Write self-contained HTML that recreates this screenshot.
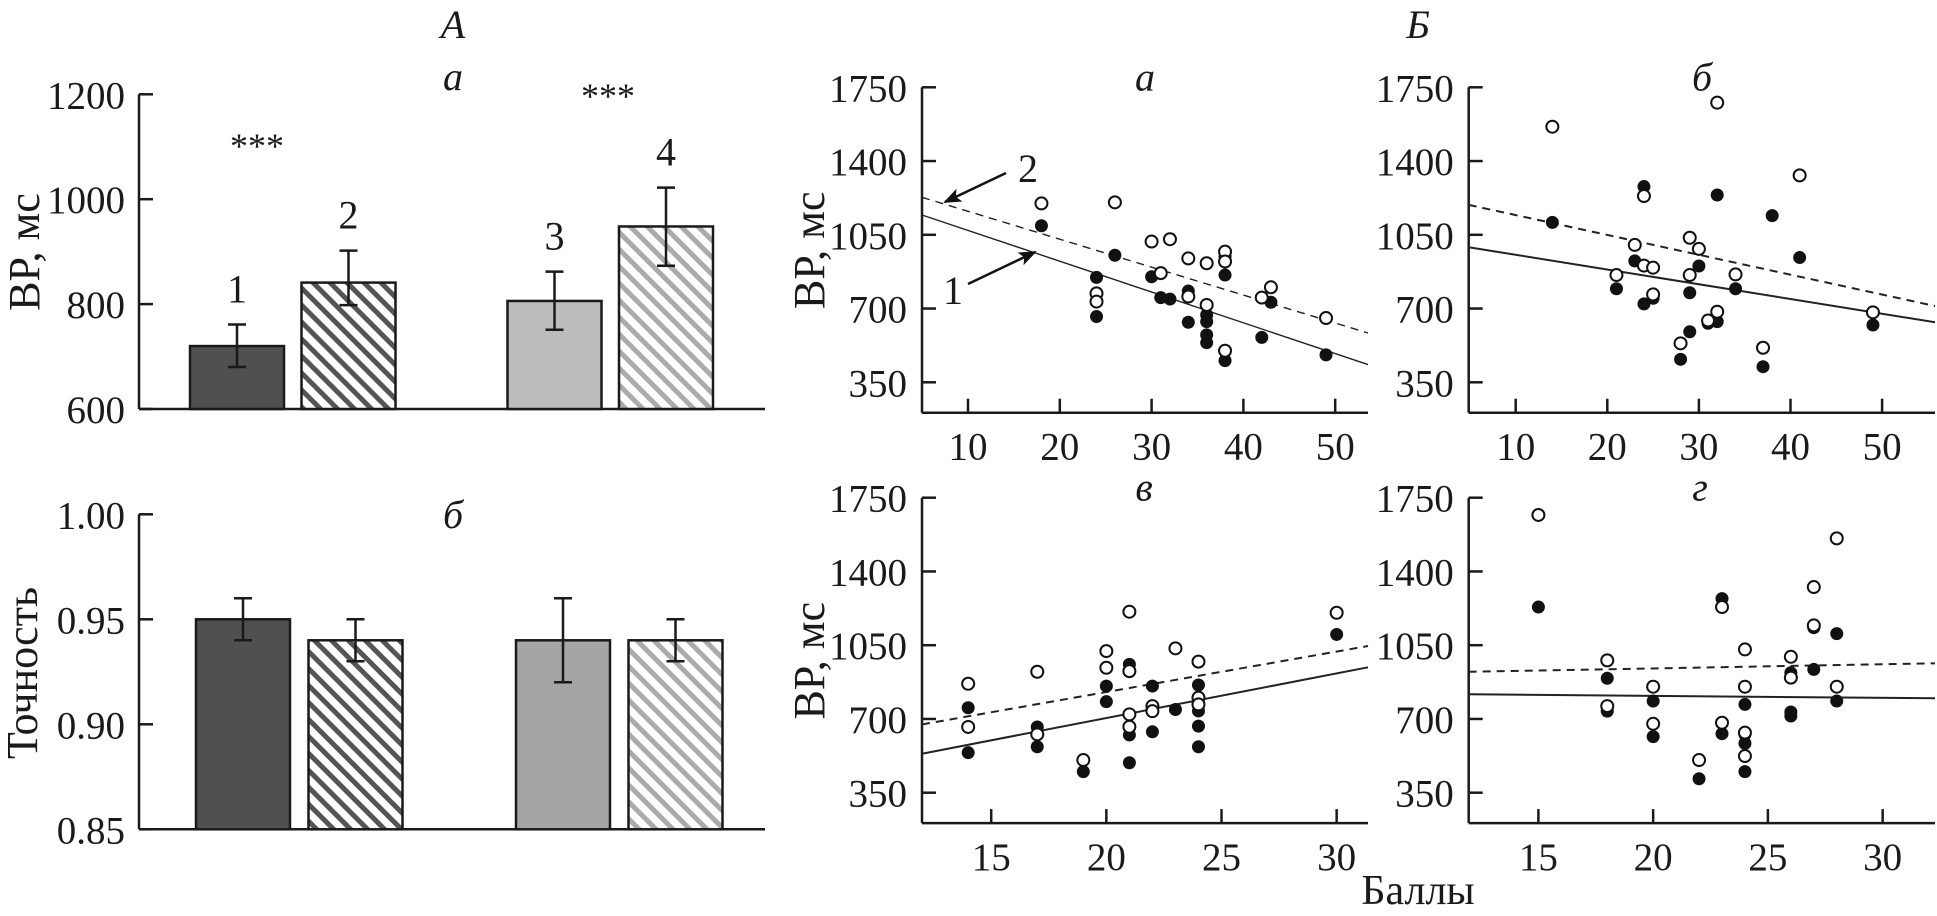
<!DOCTYPE html>
<html><head><meta charset="utf-8">
<style>
html,body{margin:0;padding:0;background:#fff;}
svg{display:block;}
text{font-family:"Liberation Serif","DejaVu Serif",serif;fill:#1a1a1a;}
.tick{font-size:39px;}
.it{font-style:italic;}
</style></head>
<body>
<svg id="fig" width="1937" height="916" viewBox="0 0 1937 916" xmlns="http://www.w3.org/2000/svg">
<defs>
<pattern id="hatchDark" width="12" height="12" patternUnits="userSpaceOnUse" patternTransform="rotate(45)">
<rect width="12" height="12" fill="#fff"/><rect width="12" height="5" fill="#555557"/></pattern>
<pattern id="hatchLight" width="12" height="12" patternUnits="userSpaceOnUse" patternTransform="rotate(45)">
<rect width="12" height="12" fill="#fff"/><rect width="12" height="5" fill="#ababad"/></pattern>
<marker id="arrowHead" markerWidth="18" markerHeight="14" refX="16" refY="7" orient="auto" markerUnits="userSpaceOnUse">
<path d="M0,0 L18,7 L0,14 L4,7 z" fill="#111"/></marker>
</defs>
<text x="453" y="38" font-size="40" class="it" text-anchor="middle">А</text>
<text x="1418" y="38" font-size="40" class="it" text-anchor="middle">Б</text>
<g id="root"></g>
</svg>
<script>
// ---------- Bar chart data ----------
const barCategories = ["1","2","3","4"];
const rtValues = [720, 841, 806, 948];
const rtErrLow = [680, 798, 751, 873];
const rtErrHigh = [761, 902, 862, 1022];
const rtTicks = [600, 800, 1000, 1200];
const accValues = [0.95, 0.94, 0.94, 0.94];
const accErrLow = [0.94, 0.93, 0.92, 0.93];
const accErrHigh = [0.96, 0.95, 0.96, 0.95];
const accTicks = [0.85, 0.90, 0.95, 1.00];
const accTickLabels = ["0.85", "0.90", "0.95", "1.00"];

// ---------- Scatter data ----------
const rtScatterTicks = [350, 700, 1050, 1400, 1750];
const ticksAB = [10, 20, 30, 40, 50];
const ticksCD = [15, 20, 25, 30];

const aFilledX = [18,26,24,24,30,31,32,34,34,36,36,36,36,38,38,38,42,43,49];
const aFilledY = [1093,953,848,662,851,752,745,783,635,670,638,575,538,946,859,453,563,730,480];
const aOpenX = [18,26,24,24,30,31,32,34,34,36,36,38,38,38,42,43,49];
const aOpenY = [1199,1204,772,733,1018,868,1029,938,757,915,717,970,923,500,752,801,655];
const aSolidLine = [1144, 434];
const aDashedLine = [1228, 584];

const bFilledX = [14,24,32,38,41,23,30,21,24,25,29,34,31,32,29,28,37,49];
const bFilledY = [1109,1279,1239,1141,942,926,902,794,722,749,775,794,630,638,590,459,424,622];
const bOpenX = [14,32,41,24,29,30,23,24,25,21,29,34,25,32,31,28,37,49];
const bOpenY = [1563,1677,1332,1234,1036,983,1002,904,894,859,859,862,767,685,643,535,514,682];
const bSolidLine = [991, 635];
const bDashedLine = [1192, 712];

const cFilledX = [14,14,17,17,19,20,20,21,21,21,22,22,23,24,24,24,24,30];
const cFilledY = [753,540,662,568,450,856,782,959,624,492,856,639,745,861,738,666,568,1101];
const cOpenX = [14,14,17,17,19,20,20,21,21,21,21,22,22,23,24,24,24,30];
const cOpenY = [867,662,924,627,505,1022,943,1209,927,722,663,761,737,1035,972,801,769,1204];
const cSolidLine = [535, 945];
const cDashedLine = [674, 1046];

const dFilledX = [15,18,18,20,20,22,23,23,24,24,24,24,26,26,26,27,27,28,28];
const dFilledY = [1231,893,737,785,616,416,1271,630,769,627,584,450,919,733,714,1133,935,1105,785];
const dOpenX = [15,18,18,20,20,22,23,23,24,24,24,24,26,26,27,27,28,28];
const dOpenY = [1668,978,761,853,677,505,1231,682,1030,853,524,635,995,896,1326,1144,1557,853];
const dSolidLine = [817, 798];
const dDashedLine = [924, 964];

const NS = "http://www.w3.org/2000/svg";
const root = document.getElementById("root");
function mk(tag, attrs, parent, txt) {
  const e = document.createElementNS(NS, tag);
  for (const k in attrs) e.setAttribute(k, attrs[k]);
  if (txt !== undefined) e.textContent = txt;
  (parent || root).appendChild(e);
  return e;
}

// ---------- Bar charts ----------
function barChart(cfg) {
  const g = mk("g", {});
  
  
  const y = v => cfg.yBottom - (v - cfg.vMin) / (cfg.vMax - cfg.vMin) * (cfg.yBottom - cfg.yTop);
  const ax = mk("line", {x1: cfg.axisX, y1: cfg.yTop, x2: cfg.axisX, y2: cfg.yBottom, stroke: "#1a1a1a", "stroke-width": 2.5}, g);
  
  
  const bx = mk("line", {x1: cfg.axisX, y1: cfg.yBottom, x2: cfg.xEnd, y2: cfg.yBottom, stroke: "#1a1a1a", "stroke-width": 2.5}, g);
  
  
  cfg.ticks.forEach((t, i) => {
    const ty = y(t);
    const tl = mk("line", {x1: cfg.axisX, y1: ty, x2: cfg.axisX + 14, y2: ty, stroke: "#1a1a1a", "stroke-width": 2.5}, g);
    
    
    const tx = mk("text", {x: cfg.axisX - 14, y: ty + 14, "text-anchor": "end", class: "tick"}, g, cfg.tickLabels[i]);
    
    
  });
  const fills = ["#505052", "url(#hatchDark)", cfg.lightFill, "url(#hatchLight)"];
  cfg.values.forEach((v, i) => {
    const left = cfg.x0 + i * cfg.step + (i >= 2 ? cfg.gap : 0);
    const top = y(v);
    const r = mk("rect", {x: left, y: top, width: cfg.bw, height: cfg.yBottom - top, fill: fills[i], stroke: "#1a1a1a", "stroke-width": 2.5}, g);
    
    
    const cx = left + cfg.bw / 2;
    const eg = mk("g", {stroke: "#1a1a1a", "stroke-width": 2.5}, g);
    
    
    mk("line", {x1: cx, y1: y(cfg.lo[i]), x2: cx, y2: y(cfg.hi[i])}, eg);
    mk("line", {x1: cx - 9, y1: y(cfg.lo[i]), x2: cx + 9, y2: y(cfg.lo[i])}, eg);
    mk("line", {x1: cx - 9, y1: y(cfg.hi[i]), x2: cx + 9, y2: y(cfg.hi[i])}, eg);
    if (cfg.labels) {
      const lt = mk("text", {x: cx, y: y(cfg.hi[i]) - 22, "text-anchor": "middle", "font-size": 40}, g, barCategories[i]);
      
      
    }
  });
}
barChart({name: "reaction-time-bar-chart", axisX: 139, xEnd: 765, yTop: 94.3, yBottom: 409, vMin: 600, vMax: 1200,
  ticks: rtTicks, tickLabels: rtTicks.map(String), values: rtValues, lo: rtErrLow, hi: rtErrHigh,
  x0: 190, step: 111.5, gap: 94.5, bw: 94, labels: true, lightFill: "#bbbcbe"});
barChart({name: "accuracy-bar-chart", axisX: 139, xEnd: 765, yTop: 514.3, yBottom: 829.3, vMin: 0.85, vMax: 1.00,
  ticks: accTicks, tickLabels: accTickLabels, values: accValues, lo: accErrLow, hi: accErrHigh,
  x0: 196, step: 112.5, gap: 95, bw: 94, labels: false, lightFill: "#a4a5a7"});

function txt(x, y, s, size, name, extra) {
  const a = Object.assign({x: x, y: y, "font-size": size, "text-anchor": "middle"}, extra || {});
  const t = mk("text", a, root, s);
  
  
  return t;
}
txt(453, 90, "а", 40, "chart-a-subtitle", {class: "it"});
txt(453, 528, "б", 40, "chart-b-subtitle", {class: "it"});
txt(257, 158, "***", 36, "significance-1-2");
txt(608, 108, "***", 36, "significance-3-4");
txt(25, 252, "ВР, мс", 44, "rt-y-axis-title", {transform: "rotate(-90 25 252)", dy: "14"});
txt(23, 673, "Точность", 44, "accuracy-y-axis-title", {transform: "rotate(-90 23 673)", dy: "14"});

// ---------- Scatter panels ----------
function scatter(cfg) {
  const g = mk("g", {});
  
  
  const X = v => cfg.refPx + (v - cfg.refVal) * cfg.ppu;
  const Y = v => cfg.y1750 + (1750 - v) * 295 / 1400;
  const xMinVal = cfg.refVal + (cfg.axisX - cfg.refPx) / cfg.ppu;
  const xMaxVal = cfg.refVal + (cfg.xEnd - cfg.refPx) / cfg.ppu;
  const yAxisBottom = cfg.y1750 + 325.4;
  const ya = mk("line", {x1: cfg.axisX, y1: cfg.y1750, x2: cfg.axisX, y2: yAxisBottom, stroke: "#1a1a1a", "stroke-width": 2.5}, g);
  
  
  const xa = mk("line", {x1: cfg.axisX, y1: yAxisBottom, x2: cfg.xEnd, y2: yAxisBottom, stroke: "#1a1a1a", "stroke-width": 2.5}, g);
  
  
  rtScatterTicks.forEach(t => {
    const ty = Y(t);
    const l = mk("line", {x1: cfg.axisX, y1: ty, x2: cfg.axisX + 14, y2: ty, stroke: "#1a1a1a", "stroke-width": 2.5}, g);
    
    
    const tt = mk("text", {x: cfg.axisX - 15, y: ty + 14, "text-anchor": "end", class: "tick"}, g, String(t));
    
    
  });
  cfg.xTicks.forEach(t => {
    const tx = X(t);
    const l = mk("line", {x1: tx, y1: yAxisBottom, x2: tx, y2: yAxisBottom - 14, stroke: "#1a1a1a", "stroke-width": 2.5}, g);
    
    
    const tt = mk("text", {x: tx, y: yAxisBottom + 47, "text-anchor": "middle", class: "tick"}, g, String(t));
    
    
  });
  const sl = mk("line", {x1: X(xMinVal), y1: Y(cfg.solid[0]), x2: X(xMaxVal), y2: Y(cfg.solid[1]), stroke: "#222", "stroke-width": cfg.lw}, g);
  
  
  const dl = mk("line", {x1: X(xMinVal), y1: Y(cfg.dashed[0]), x2: X(xMaxVal), y2: Y(cfg.dashed[1]), stroke: "#222", "stroke-width": cfg.lw, "stroke-dasharray": "8 6"}, g);
  
  
  cfg.fx.forEach((v, i) => {
    const c = mk("circle", {cx: X(v), cy: Y(cfg.fy[i]), r: 6.5, fill: "#111"}, g);
    
    
  });
  cfg.ox.forEach((v, i) => {
    const c = mk("circle", {cx: X(v), cy: Y(cfg.oy[i]), r: 6, fill: "#fff", stroke: "#111", "stroke-width": 2}, g);
    
    
  });
  const st = mk("text", {x: cfg.subX, y: cfg.y1750 + 3, "text-anchor": "middle", "font-size": 40, class: "it"}, g, cfg.sub);
  
  
  if (cfg.yTitle) {
    const yt = mk("text", {x: 810, y: cfg.y1750 + 163, "text-anchor": "middle", "font-size": 44, dy: "14", transform: "rotate(-90 810 " + (cfg.y1750 + 163) + ")"}, g, "ВР, мс");
    
    
  }
}
scatter({name: "scatter-a", axisX: 922, xEnd: 1368, refPx: 968, refVal: 10, ppu: 9.18, y1750: 87.3, xTicks: ticksAB,
  fx: aFilledX, fy: aFilledY, ox: aOpenX, oy: aOpenY, solid: aSolidLine, dashed: aDashedLine, sub: "а", subX: 1145, yTitle: true, lw: 1.4});
scatter({name: "scatter-b", axisX: 1468.7, xEnd: 1935, refPx: 1515.7, refVal: 10, ppu: 9.16, y1750: 87.3, xTicks: ticksAB,
  fx: bFilledX, fy: bFilledY, ox: bOpenX, oy: bOpenY, solid: bSolidLine, dashed: bDashedLine, sub: "б", subX: 1702, yTitle: false, lw: 2});
scatter({name: "scatter-c", axisX: 922, xEnd: 1368, refPx: 991.2, refVal: 15, ppu: 23.03, y1750: 497.7, xTicks: ticksCD,
  fx: cFilledX, fy: cFilledY, ox: cOpenX, oy: cOpenY, solid: cSolidLine, dashed: cDashedLine, sub: "в", subX: 1144, yTitle: true, lw: 2});
scatter({name: "scatter-d", axisX: 1468.7, xEnd: 1935, refPx: 1538.4, refVal: 15, ppu: 22.95, y1750: 497.7, xTicks: ticksCD,
  fx: dFilledX, fy: dFilledY, ox: dOpenX, oy: dOpenY, solid: dSolidLine, dashed: dDashedLine, sub: "г", subX: 1700, yTitle: false, lw: 2});

txt(1418, 904, "Баллы", 42, "x-axis-title");

// arrows with labels in panel a
const a2 = mk("line", {x1: 1006, y1: 173, x2: 945, y2: 202, stroke: "#111", "stroke-width": 2.5, "marker-end": "url(#arrowHead)"});


const a1 = mk("line", {x1: 968, y1: 284, x2: 1035, y2: 252, stroke: "#111", "stroke-width": 2.5, "marker-end": "url(#arrowHead)"});


txt(1028, 182, "2", 40, "arrow-label-2");
txt(953, 304, "1", 40, "arrow-label-1");
</script>
</body></html>
